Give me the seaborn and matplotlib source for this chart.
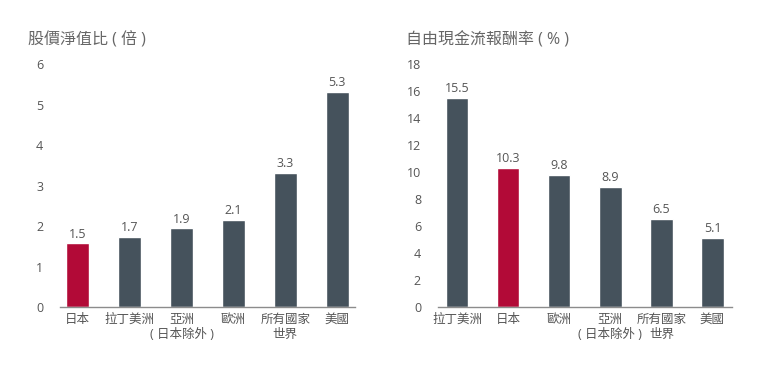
import matplotlib
matplotlib.use("Agg")
import matplotlib.pyplot as plt
import seaborn as sns

# left chart: price to book
pb_cats = ["日本", "拉丁美洲", "亞洲", "歐洲", "所有國家", "美國"]
pb_sub = ["", "", "( 日本除外 )", "", "世界", ""]
pb_vals = [1.57, 1.73, 1.94, 2.14, 3.32, 5.31]
pb_labels = ["1.5", "1.7", "1.9", "2.1", "3.3", "5.3"]
pb_yticks = [0, 1, 2, 3, 4, 5, 6]

# right chart: free cash flow yield
fcf_cats = ["拉丁美洲", "日本", "歐洲", "亞洲", "所有國家", "美國"]
fcf_sub = ["", "", "", "( 日本除外 )", "世界", ""]
fcf_vals = [15.5, 10.3, 9.8, 8.9, 6.5, 5.1]
fcf_labels = ["15.5", "10.3", "9.8", "8.9", "6.5", "5.1"]
fcf_yticks = [0, 2, 4, 6, 8, 10, 12, 14, 16, 18]

RED = "#b20a37"
SLATE = "#45525c"
TXT = "#555555"

sns.set_style("white")
plt.rcParams['font.family'] = ['Open Sans', 'Noto Sans CJK TC', 'DejaVu Sans']

fig = plt.figure(figsize=(7.72, 3.73), dpi=100)
ax1 = fig.add_axes([0.0777, 0.177, 0.382, 0.651])
ax2 = fig.add_axes([0.567, 0.177, 0.381, 0.651])


def draw(ax, cats, subs, vals, labels, yticks, xpad):
    colors = [RED if c == "日本" else SLATE for c in cats]
    sns.barplot(x=cats, y=vals, hue=cats, palette=colors, legend=False,
                width=0.44, saturation=1, ax=ax)
    for p, lab in zip(ax.patches, labels):
        ax.text(p.get_x() + p.get_width() / 2, p.get_height() + yticks[-1] * 0.012, lab,
                ha="center", va="bottom", fontsize=9, color=TXT)
    # second line of the category labels
    for i, s in enumerate(subs):
        if s:
            ax.annotate(s, xy=(i, 0), xycoords=("data", "axes fraction"),
                        xytext=(0, -15.2), textcoords="offset points",
                        ha="center", va="top", fontsize=9, color=TXT)
    ax.set_xlim(-xpad, len(cats) - 1 + xpad)
    ax.set_ylim(0, yticks[-1])
    ax.set_yticks(yticks)
    ax.set_xlabel("")
    ax.set_ylabel("")
    sns.despine(ax=ax, left=True)
    ax.spines["bottom"].set_color("#8c8c8c")
    ax.spines["bottom"].set_linewidth(1)
    ax.tick_params(axis="y", length=0, pad=12, labelsize=9, labelcolor=TXT)
    ax.tick_params(axis="x", length=0, pad=4, labelsize=9, labelcolor=TXT)


draw(ax1, pb_cats, pb_sub, pb_vals, pb_labels, pb_yticks, 0.34)
draw(ax2, fcf_cats, fcf_sub, fcf_vals, fcf_labels, fcf_yticks, 0.38)

fig.text(0.036, 0.893, "股價淨值比 ( 倍 )", fontsize=11.5, color="#666666", va="center")
fig.text(0.526, 0.893, "自由現金流報酬率 ( % )", fontsize=11.5, color="#666666", va="center")

fig.savefig("out.png", dpi=100)
